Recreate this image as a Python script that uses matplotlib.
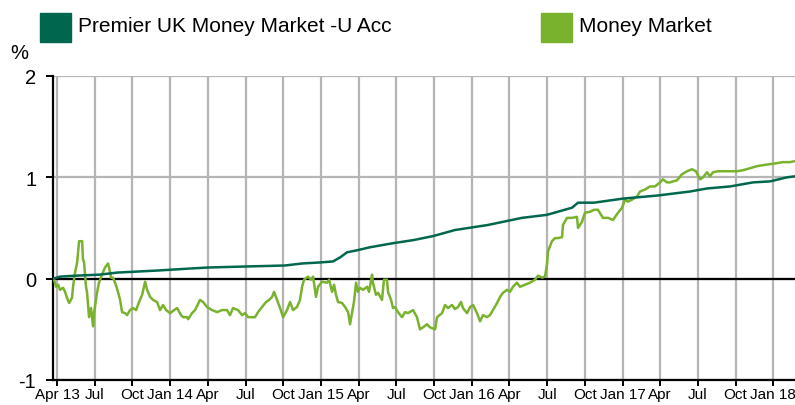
import matplotlib.pyplot as plt
import matplotlib.patches as mpatches

plt.rcParams['font.family'] = ['Liberation Sans', 'DejaVu Sans']

# time in decimal years (2013.25 = 1 Apr 2013), values in %
premier_t = [2013.223, 2013.270, 2013.383, 2013.535, 2013.648, 2013.780, 2013.913,
             2014.132, 2014.251, 2014.497, 2014.762, 2014.875, 2014.994, 2015.080,
             2015.127, 2015.173, 2015.239, 2015.326, 2015.478, 2015.611, 2015.743,
             2015.889, 2016.108, 2016.333, 2016.499, 2016.665, 2016.705, 2016.764,
             2016.811, 2017.003, 2017.229, 2017.447, 2017.560, 2017.713, 2017.865,
             2017.978, 2018.091, 2018.144]
premier_v = [0.00, 0.02, 0.03, 0.04, 0.06, 0.07, 0.08,
             0.10, 0.11, 0.12, 0.13, 0.15, 0.16, 0.17,
             0.21, 0.26, 0.28, 0.31, 0.35, 0.38, 0.42,
             0.48, 0.53, 0.60, 0.63, 0.70, 0.75, 0.75,
             0.75, 0.79, 0.82, 0.86, 0.89, 0.91, 0.95,
             0.96, 1.00, 1.01]

mm_t = [2013.230, 2013.243, 2013.257, 2013.270, 2013.290, 2013.303, 2013.316, 2013.330,
        2013.349, 2013.356, 2013.369, 2013.383, 2013.396, 2013.416, 2013.422, 2013.429,
        2013.442, 2013.449, 2013.462, 2013.475, 2013.489, 2013.495, 2013.515, 2013.528,
        2013.548, 2013.568, 2013.588, 2013.595, 2013.608, 2013.621, 2013.635, 2013.654,
        2013.668, 2013.681, 2013.701, 2013.714, 2013.734, 2013.754, 2013.774, 2013.794,
        2013.814, 2013.834, 2013.847, 2013.867, 2013.887, 2013.913, 2013.933, 2013.953,
        2013.973, 2014.000, 2014.026, 2014.046, 2014.072, 2014.086, 2014.112, 2014.119,
        2014.145, 2014.165, 2014.198, 2014.218, 2014.245, 2014.278, 2014.311, 2014.344,
        2014.377, 2014.397, 2014.417, 2014.450, 2014.477, 2014.497, 2014.517, 2014.543,
        2014.563, 2014.583, 2014.609, 2014.636, 2014.656, 2014.676, 2014.689, 2014.709,
        2014.729, 2014.749, 2014.775, 2014.795, 2014.815, 2014.841, 2014.861, 2014.875,
        2014.888, 2014.914, 2014.934, 2014.948, 2014.967, 2014.981, 2015.007, 2015.040,
        2015.054, 2015.074, 2015.087, 2015.100, 2015.113, 2015.140, 2015.160, 2015.180,
        2015.193, 2015.206, 2015.219, 2015.233, 2015.246, 2015.259, 2015.279, 2015.306,
        2015.319, 2015.339, 2015.345, 2015.365, 2015.379, 2015.405, 2015.418, 2015.438,
        2015.445, 2015.465, 2015.478, 2015.491, 2015.511, 2015.538, 2015.558, 2015.577,
        2015.611, 2015.637, 2015.657, 2015.677, 2015.703, 2015.723, 2015.757, 2015.770,
        2015.803, 2015.823, 2015.843, 2015.869, 2015.889, 2015.909, 2015.929, 2015.942,
        2015.969, 2015.989, 2016.009, 2016.035, 2016.055, 2016.075, 2016.101, 2016.121,
        2016.141, 2016.168, 2016.188, 2016.207, 2016.234, 2016.254, 2016.274, 2016.300,
        2016.320, 2016.353, 2016.386, 2016.420, 2016.440, 2016.466, 2016.486, 2016.499,
        2016.506, 2016.532, 2016.552, 2016.572, 2016.599, 2016.605, 2016.632, 2016.665,
        2016.698, 2016.705, 2016.731, 2016.751, 2016.784, 2016.811, 2016.837, 2016.870,
        2016.904, 2016.937, 2016.970, 2016.997, 2017.017, 2017.036, 2017.063, 2017.096,
        2017.116, 2017.149, 2017.182, 2017.215, 2017.249, 2017.268, 2017.295, 2017.315,
        2017.335, 2017.361, 2017.394, 2017.428, 2017.461, 2017.487, 2017.507, 2017.514,
        2017.534, 2017.560, 2017.580, 2017.600, 2017.633, 2017.666, 2017.713, 2017.759,
        2017.799, 2017.845, 2017.892, 2017.931, 2017.978, 2018.024, 2018.064, 2018.110,
        2018.144]
mm_v = [-0.01, -0.08, -0.06, -0.11, -0.09, -0.13, -0.19, -0.24,
        -0.19, -0.08, 0.06, 0.16, 0.37, 0.37, 0.19, 0.16,
        -0.08, -0.14, -0.38, -0.29, -0.47, -0.34, -0.14, -0.04,
        0.04, 0.11, 0.15, 0.11, 0.01, 0.01, -0.04, -0.13,
        -0.21, -0.33, -0.34, -0.36, -0.31, -0.29, -0.31, -0.23,
        -0.16, -0.03, -0.11, -0.18, -0.21, -0.23, -0.31, -0.26,
        -0.31, -0.34, -0.31, -0.29, -0.36, -0.38, -0.38, -0.40,
        -0.34, -0.31, -0.21, -0.23, -0.28, -0.31, -0.33, -0.31,
        -0.31, -0.36, -0.29, -0.31, -0.36, -0.34, -0.38, -0.38,
        -0.38, -0.33, -0.28, -0.23, -0.21, -0.18, -0.13, -0.21,
        -0.29, -0.38, -0.31, -0.23, -0.31, -0.28, -0.21, -0.08,
        -0.01, 0.02, -0.01, 0.02, -0.18, -0.08, -0.03, -0.04,
        -0.01, -0.13, -0.06, -0.16, -0.23, -0.24, -0.28, -0.33,
        -0.45, -0.34, -0.23, -0.04, -0.13, -0.09, -0.11, -0.08,
        -0.13, 0.04, -0.04, -0.16, -0.14, -0.21, -0.01, -0.01,
        -0.13, -0.21, -0.29, -0.28, -0.33, -0.38, -0.33, -0.34,
        -0.31, -0.38, -0.50, -0.48, -0.45, -0.48, -0.50, -0.38,
        -0.34, -0.26, -0.29, -0.26, -0.30, -0.28, -0.23, -0.29,
        -0.34, -0.28, -0.26, -0.34, -0.42, -0.36, -0.38, -0.36,
        -0.31, -0.24, -0.18, -0.14, -0.11, -0.13, -0.08, -0.04,
        -0.08, -0.06, -0.04, -0.01, 0.03, 0.01, 0.02, 0.14,
        0.27, 0.37, 0.40, 0.40, 0.41, 0.53, 0.60, 0.60,
        0.61, 0.50, 0.56, 0.65, 0.66, 0.68, 0.68, 0.60,
        0.60, 0.58, 0.65, 0.70, 0.78, 0.76, 0.78, 0.81,
        0.86, 0.88, 0.91, 0.91, 0.95, 0.98, 0.95, 0.95,
        0.96, 0.97, 1.03, 1.06, 1.08, 1.06, 1.00, 0.98,
        1.00, 1.05, 1.01, 1.05, 1.06, 1.06, 1.06, 1.06,
        1.07, 1.09, 1.11, 1.12, 1.13, 1.14, 1.15, 1.15,
        1.16]

tick_pos = [2013.25 + 0.25 * i for i in range(20)]
tick_labels = ["Apr 13", "Jul", "Oct", "Jan 14", "Apr", "Jul", "Oct", "Jan 15", "Apr", "Jul",
               "Oct", "Jan 16", "Apr", "Jul", "Oct", "Jan 17", "Apr", "Jul", "Oct", "Jan 18"]
series_names = ["Premier UK Money Market -U Acc", "Money Market"]
colors = ["#00674F", "#79B22C"]

fig = plt.figure(figsize=(7.95, 4.06), dpi=100)
ax = fig.add_axes([53 / 795, 1 - 381 / 406, 742 / 795, 304 / 406])

ax.plot(premier_t, premier_v, color=colors[0], lw=1.8, zorder=4)
ax.plot(mm_t, mm_v, color=colors[1], lw=1.8, zorder=3)
ax.axhline(0, color="black", lw=1.6, zorder=2)

ax.set_xlim(2013.223, 2018.144)
ax.set_ylim(-1, 2)
ax.set_xticks(tick_pos)
ax.set_xticklabels(tick_labels, fontsize=11)
ax.set_yticks([-1, 0, 1, 2])
ax.set_yticklabels(["-1", "0", "1", "2"], fontsize=14.5)
ax.tick_params(axis="x", length=4, width=1.4, pad=1)
ax.tick_params(axis="y", length=5, width=1.4, pad=7)
ax.grid(color="#b5b5b5", lw=1.6, zorder=0)
ax.set_axisbelow(True)
for s in ["top", "right"]:
    ax.spines[s].set_visible(False)
for s in ["left", "bottom"]:
    ax.spines[s].set_linewidth(1.6)

fig.text(10 / 795, 1 - 54 / 406, "%", fontsize=14.5, va="center", ha="left")

# legend drawn by hand
leg_x = [40, 541]
for lx, name, c in zip(leg_x, series_names, colors):
    fig.patches.append(mpatches.Rectangle((lx / 795, 1 - 43 / 406), 31 / 795, 29 / 406,
                                          transform=fig.transFigure, color=c))
    fig.text((lx + 38) / 795, 1 - 27 / 406, name, fontsize=15, va="center", ha="left")

plt.savefig("out.png", dpi=100)
